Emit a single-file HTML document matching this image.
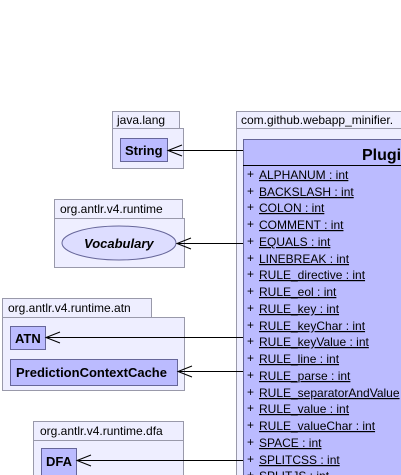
<!DOCTYPE html>
<html><head><style>
html,body{margin:0;padding:0;background:#fff;}
svg{display:block;}
text{font-family:"Liberation Sans",sans-serif;fill:#000;}
</style></head><body>
<svg width="401" height="475" viewBox="0 0 401 475" xmlns="http://www.w3.org/2000/svg">
<g fill="#eeeeff" stroke="#9999aa" stroke-width="1">
<rect x="236.5" y="111.5" width="170" height="17"/>
<rect x="236.5" y="128.5" width="170" height="350"/>
<rect x="112.5" y="111.5" width="67" height="17"/>
<rect x="112.5" y="128.5" width="71" height="40"/>
<rect x="54.5" y="199.5" width="128" height="19"/>
<rect x="54.5" y="218.5" width="130" height="49"/>
<rect x="2.5" y="298.5" width="149" height="19"/>
<rect x="2.5" y="317.5" width="182" height="73"/>
<rect x="33.5" y="421.5" width="150" height="19"/>
<rect x="33.5" y="440.5" width="150" height="40"/>
</g>
<g font-size="12">
<text x="241" y="124">com.github.webapp_minifier.</text>
<text x="117" y="124">java.lang</text>
<text x="60" y="213">org.antlr.v4.runtime</text>
<text x="8" y="312">org.antlr.v4.runtime.atn</text>
<text x="40" y="435">org.antlr.v4.runtime.dfa</text>
</g>
<g fill="#bbbbff" stroke="#666699">
<rect x="243.5" y="139.5" width="170" height="340"/>
<rect x="120.5" y="138.5" width="47" height="23"/>
<ellipse cx="119" cy="243" rx="57" ry="17" fill="#ddddff"/>
<rect x="10.5" y="326.5" width="35" height="23"/>
<rect x="10.5" y="359.5" width="167" height="26"/>
<rect x="41.5" y="448.5" width="35" height="30"/>
</g>
<line x1="243" y1="165.5" x2="401" y2="165.5" stroke="#000"/>
<text x="362" y="160" font-size="16" font-weight="bold">Plugi</text>
<g font-size="13" font-weight="bold">
<text x="125" y="155">String</text>
<text x="84" y="248" font-style="italic">Vocabulary</text>
<text x="15" y="343">ATN</text>
<text x="16" y="377">PredictionContextCache</text>
<text x="46" y="466">DFA</text>
</g>
<g stroke="#000" fill="none" stroke-width="1">
<line x1="168" y1="150.5" x2="243" y2="150.5"/><polyline points="182,145 168,150.5 182,156"/>
<line x1="177" y1="243.5" x2="243" y2="243.5"/><polyline points="191,238 177,243.5 191,249"/>
<line x1="46" y1="337.5" x2="243" y2="337.5"/><polyline points="60,332 46,337.5 60,343"/>
<line x1="178" y1="371.5" x2="243" y2="371.5"/><polyline points="192,366 178,371.5 192,377"/>
<line x1="77" y1="460.5" x2="243" y2="460.5"/><polyline points="91,455 77,460.5 91,466"/>
</g>
<g font-size="12">
<text x="247" y="178">+</text><text x="247" y="195">+</text><text x="247" y="211">+</text><text x="247" y="228">+</text>
<text x="247" y="245">+</text><text x="247" y="262">+</text><text x="247" y="278">+</text><text x="247" y="295">+</text>
<text x="247" y="312">+</text><text x="247" y="329">+</text><text x="247" y="345">+</text><text x="247" y="362">+</text>
<text x="247" y="379">+</text><text x="247" y="396">+</text><text x="247" y="412">+</text><text x="247" y="429">+</text>
<text x="247" y="446">+</text><text x="247" y="463">+</text><text x="247" y="479">+</text>
</g>
<g font-size="12" text-decoration="underline">
<text x="259" y="179">ALPHANUM : int</text>
<text x="259" y="196">BACKSLASH : int</text>
<text x="259" y="212">COLON : int</text>
<text x="259" y="229">COMMENT : int</text>
<text x="259" y="246">EQUALS : int</text>
<text x="259" y="263">LINEBREAK : int</text>
<text x="259" y="279">RULE_directive : int</text>
<text x="259" y="296">RULE_eol : int</text>
<text x="259" y="313">RULE_key : int</text>
<text x="259" y="330">RULE_keyChar : int</text>
<text x="259" y="346">RULE_keyValue : int</text>
<text x="259" y="363">RULE_line : int</text>
<text x="259" y="380">RULE_parse : int</text>
<text x="259" y="397">RULE_separatorAndValue</text>
<text x="259" y="413">RULE_value : int</text>
<text x="259" y="430">RULE_valueChar : int</text>
<text x="259" y="447">SPACE : int</text>
<text x="259" y="464">SPLITCSS : int</text>
<text x="259" y="480">SPLITJS : int</text>
</g>
</svg>
</body></html>
